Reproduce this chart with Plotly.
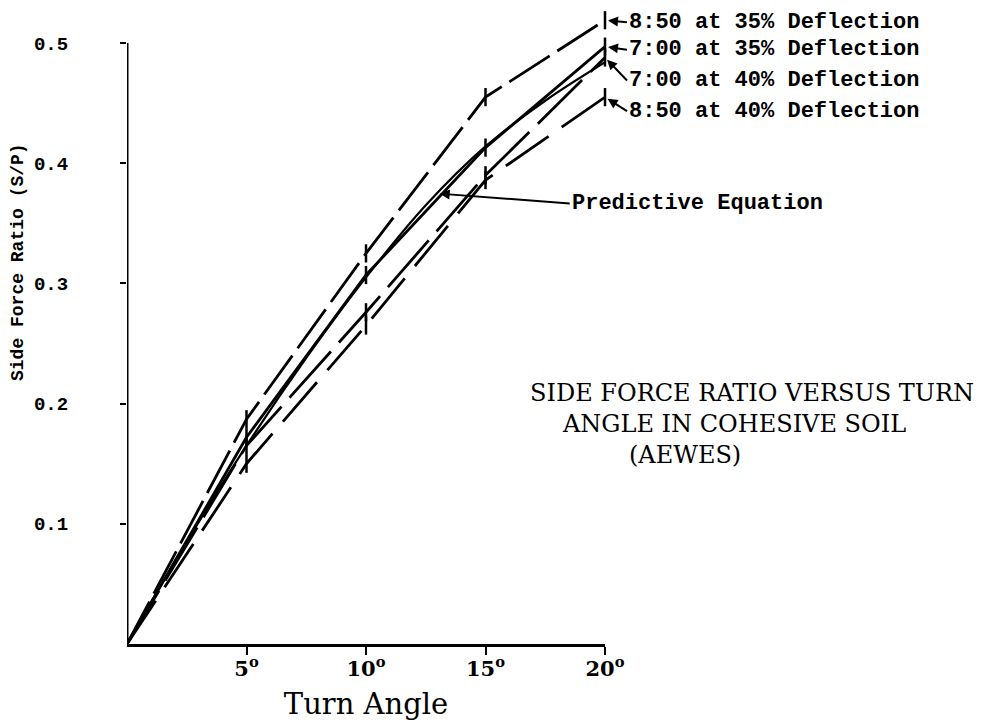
import numpy as np
import plotly.graph_objects as go

# ---- data ----
angles = [0, 5, 10, 15, 20]
s850_35 = [0, 0.187, 0.325, 0.455, 0.519]
s700_35 = [0, 0.172, 0.307, 0.413, 0.497]
s700_40 = [0, 0.165, 0.276, 0.390, 0.488]
s850_40 = [0, 0.150, 0.265, 0.386, 0.455]
pred_angles = [0, 2.5, 5, 7.5, 10, 12.5, 15, 17.5, 20]
pred_vals = [0, 0.085, 0.165, 0.238, 0.305, 0.365, 0.414, 0.452, 0.484]

series_names = ["8:50 at 35% Deflection", "7:00 at 35% Deflection",
                "7:00 at 40% Deflection", "8:50 at 40% Deflection"]
series_vals = [s850_35, s700_35, s700_40, s850_40]
series_dash = ["48px,9px", "solid", "62px,12px", "52px,16px"]
label_offsets_y = [2, 3, 23, 14]   # px offsets of label text from line end

x_tick_vals = [5, 10, 15, 20]
x_tick_text = ["5<sup>o</sup>", "10<sup>o</sup>", "15<sup>o</sup>", "20<sup>o</sup>"]
y_tick_vals = [0.1, 0.2, 0.3, 0.4, 0.5]
y_tick_text = ["0.1", "0.2", "0.3", "0.4", "0.5"]

# ---- geometry ----
W, H = 989, 723
L, R, T, B = 127, 384, 7, 79
PW, PH = W - L - R, H - T - B


def pxx(xp):
    return (xp - L) / PW


def pxy(yp):
    return (H - B - yp) / PH


MONO = "Liberation Mono"
SERIF = "DejaVu Serif"

fig = go.Figure()

fig.add_trace(go.Scatter(x=pred_angles, y=pred_vals, mode="lines",
                         line=dict(color="black", width=2.2, shape="spline"),
                         showlegend=False, hoverinfo="skip"))

for name, vals, dash in zip(series_names, series_vals, series_dash):
    fig.add_trace(go.Scatter(
        x=angles, y=vals, mode="lines", name=name,
        line=dict(color="black", width=2.8, dash=dash),
        showlegend=False, hoverinfo="skip"))
    fig.add_trace(go.Scatter(
        x=angles[1:], y=vals[1:], mode="markers", name=name,
        marker=dict(symbol="line-ns-open", size=13, color="black",
                    line=dict(color="black", width=2.5)),
        cliponaxis=False, showlegend=False, hoverinfo="skip"))

# labels with arrows at the right end of each series
for name, vals, oy in zip(series_names, series_vals, label_offsets_y):
    fig.add_annotation(x=angles[-1], y=vals[-1], xref="x", yref="y",
                       text=name, showarrow=True, axref="pixel", ayref="pixel",
                       ax=22, ay=oy, xanchor="left", yanchor="middle",
                       arrowhead=2, arrowsize=1, arrowwidth=2, standoff=3,
                       arrowcolor="black",
                       font=dict(family=MONO, size=22, color="black", weight="bold"))

# predictive equation label
px_ang = 13.0
py_val = float(np.interp(px_ang, pred_angles, pred_vals))
fig.add_annotation(x=px_ang, y=py_val, xref="x", yref="y",
                   text="Predictive Equation", showarrow=True,
                   ax=132, ay=10, xanchor="left", yanchor="middle",
                   arrowhead=2, arrowsize=1, arrowwidth=2, standoff=2,
                   arrowcolor="black",
                   font=dict(family=MONO, size=22, color="black", weight="bold"))

# title block
title_lines = ["SIDE FORCE RATIO VERSUS TURN", "ANGLE IN COHESIVE SOIL", "(AEWES)"]
title_pos = [(528, 393), (560, 424), (627, 455)]
for txt, (xp, yp) in zip(title_lines, title_pos):
    fig.add_annotation(x=pxx(xp), y=pxy(yp), xref="paper", yref="paper",
                       text=txt, showarrow=False, xanchor="left", yanchor="middle",
                       font=dict(family=SERIF, size=24, color="black"))

# y axis title
fig.add_annotation(x=pxx(18), y=pxy(262), xref="paper", yref="paper",
                   text="Side Force Ratio (S/P)", showarrow=False, textangle=-90,
                   xanchor="center", yanchor="middle",
                   font=dict(family=MONO, size=18, color="black", weight="bold"))

# y axis line (stops at 0.5)
fig.add_shape(type="line", x0=0, x1=0, y0=0, y1=y_tick_vals[-1], xref="x", yref="y",
              line=dict(color="black", width=3))

fig.update_layout(
    width=W, height=H,
    margin=dict(l=L, r=R, t=T, b=B),
    paper_bgcolor="white", plot_bgcolor="white",
    showlegend=False,
    xaxis=dict(range=[0, 20], showgrid=False, zeroline=False,
               showline=True, linecolor="black", linewidth=3,
               ticks="outside", ticklen=8, tickwidth=2, tickcolor="black",
               tickvals=x_tick_vals, ticktext=x_tick_text,
               ticklabelstandoff=-4,
               tickfont=dict(family=SERIF, size=21, color="black", weight="bold"),
               title=dict(text="Turn Angle", standoff=14,
                          font=dict(family=SERIF, size=29, color="black"))),
    yaxis=dict(range=[0, 0.53], showgrid=False, zeroline=False, showline=False,
               ticks="outside", ticklen=6, tickwidth=2, tickcolor="black",
               tickvals=y_tick_vals, ticktext=y_tick_text,
               ticklabelstandoff=48,
               tickfont=dict(family=MONO, size=19, color="black", weight="bold")),
)

fig.write_html("out.html")
